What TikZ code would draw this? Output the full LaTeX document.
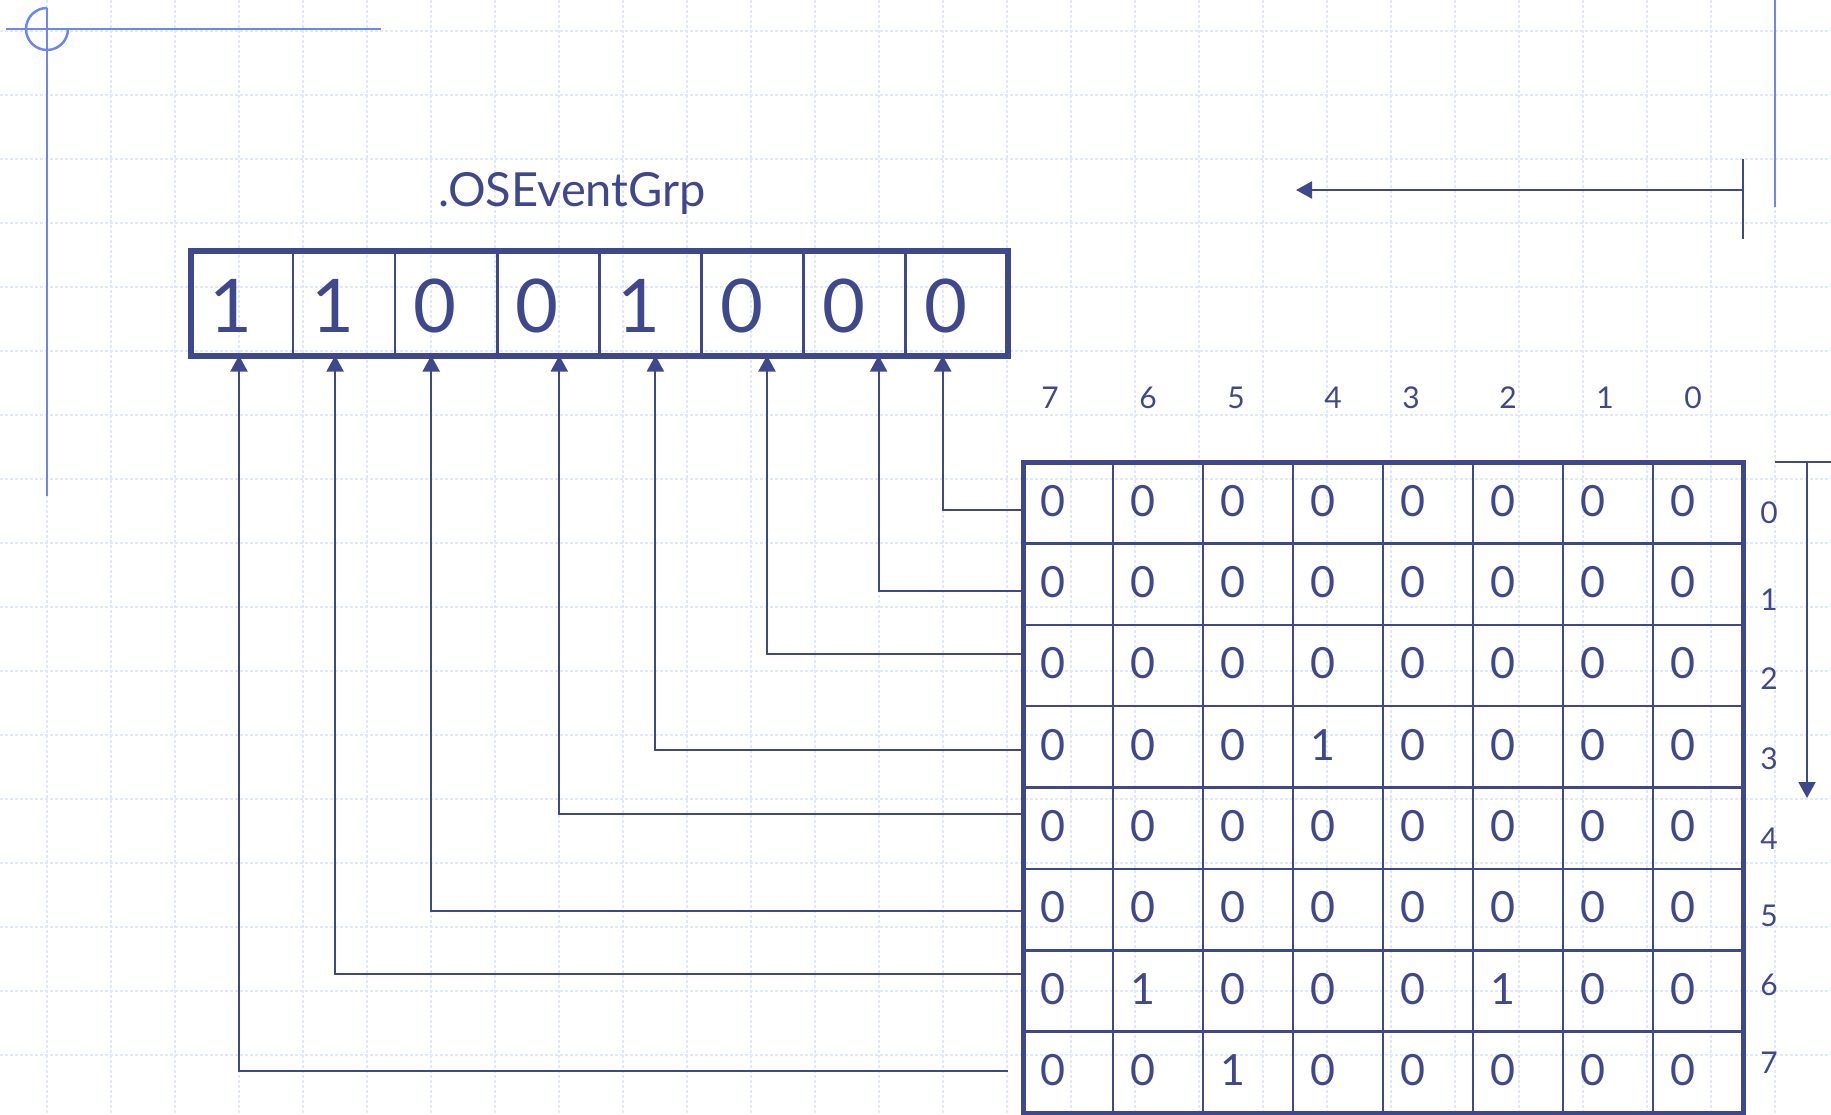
\documentclass[tikz,border=0pt]{standalone}
\usepackage{fontspec}
\setmainfont{Lato}
\usetikzlibrary{arrows.meta}

\definecolor{navy}{RGB}{64,72,140}
\definecolor{paleblue}{RGB}{108,136,240}
\definecolor{gridblue}{RGB}{226,232,252}

\tikzset{
  gridline/.style={gridblue, line width=1.3pt, dash pattern=on 3pt off 2pt},
  guide/.style={paleblue, line width=2.5pt},
  bus/.style={navy, line width=2pt},
  feed/.style={bus, -{Triangle[length=16pt,width=17pt]}},
  regcell/.style={draw=navy, line width=2.5pt, minimum width=102.1pt, minimum height=104pt, inner sep=0pt, outer sep=0pt},
  tblcell/.style={draw=navy, line width=2.5pt, minimum width=90pt, minimum height=81.375pt, inner sep=0pt, outer sep=0pt},
  bigdigit/.style={text=navy, font=\fontsize{74}{80}\selectfont, xshift=-11pt, yshift=-2pt},
  tbldigit/.style={text=navy, font=\fontsize{43}{48}\selectfont, xshift=-15pt, yshift=2pt},
  idx/.style={text=navy, font=\fontsize{30}{34}\selectfont},
  title/.style={text=navy, font=\fontsize{47}{52}\selectfont}
}

\begin{document}
\begin{tikzpicture}[x=1pt,y=-1pt]
\useasboundingbox (0,0) rectangle (1831,1115);

% background grid
\foreach \gx in {47,111,...,1831} \draw[gridline] (\gx,0) -- (\gx,1115);
\foreach \gy in {31,95,...,1115} \draw[gridline] (0,\gy) -- (1831,\gy);

% corner marks
\draw[guide] (6,29) -- (381,29);
\draw[guide] (47,8) -- (47,496);
\draw[guide] (47,8) arc[start angle=270, end angle=0, radius=21];
\draw[guide] (1775,0) -- (1775,207);

\draw[bus] (1743,159) -- (1743,239);
\draw[feed] (1743,190) -- (1296,190);

\node[title] (grp) at (572,194) {.OSEventGrp};

% event group register, bit 7 on the left
\foreach \v [count=\i from 0] in {1,1,0,0,1,0,0,0} {
  \pgfmathtruncatemacro{\bit}{7-\i}
  \node[regcell, label={[bigdigit]center:\v}] (r\bit) at ({242+102.1*\i},303.5) {};
}
\draw[navy, line width=6pt] (r7.north west) rectangle (r0.south east);

% 8x8 table
\foreach \row [count=\ri from 0] in {
    {0,0,0,0,0,0,0,0},{0,0,0,0,0,0,0,0},{0,0,0,0,0,0,0,0},{0,0,0,1,0,0,0,0},
    {0,0,0,0,0,0,0,0},{0,0,0,0,0,0,0,0},{0,1,0,0,0,1,0,0},{0,0,1,0,0,0,0,0}} {
  \foreach \v [count=\ci from 0] in \row {
    \node[tblcell, label={[tbldigit]center:\v}] (m\ri\ci) at ({1068+90*\ci},{502.7+81.375*\ri}) {};
  }
}
\draw[navy, line width=5pt] (m00.north west) rectangle (m77.south east);

\foreach \x/\t in {1050/7,1148/6,1236/5,1333/4,1411/3,1508/2,1605/1,1693/0}
  \node[idx] (col\t) at (\x,398) {\t};
\foreach \y [count=\ri from 0] in {513,600,679,759,839,916,985,1063}
  \node[idx] (row\ri) at (1769,\y) {\ri};

\draw[bus] (1775,462) -- (1831,462);
\draw[feed] (1807,462) -- (1807,798);

% row lines up to the register bits
\foreach \ri/\x/\y/\dx in {0/1023/510/-14, 1/1023/591/24, 2/1023/654/14.5, 3/1023/750/5,
                           4/1023/814/11, 5/1023/911/-15, 6/1023/974/-9, 7/1008/1071/-3} {
  \coordinate (in\ri) at (\x,\y);
  \draw[feed] (in\ri) -| ([xshift=\dx]r\ri.south);
}
\end{tikzpicture}
\end{document}
